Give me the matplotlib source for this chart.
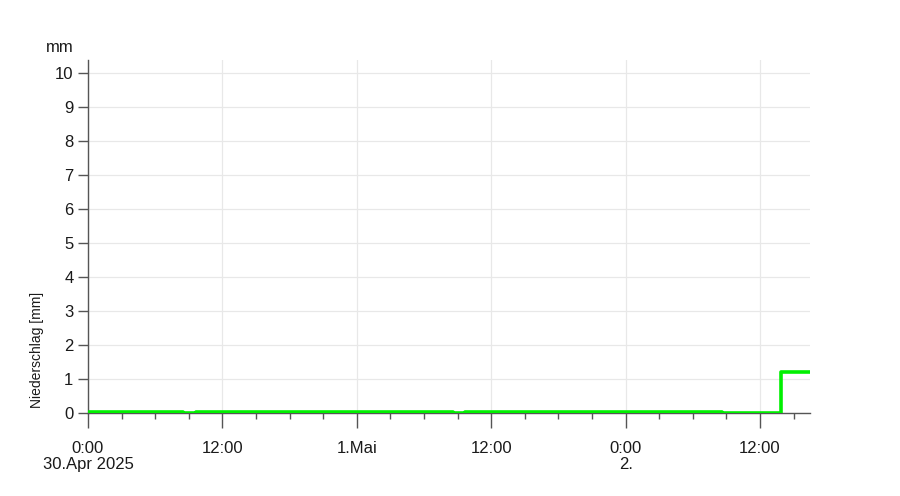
import matplotlib
matplotlib.use('Agg')
import matplotlib.pyplot as plt
import pandas as pd

plt.rcParams['font.family'] = ['Liberation Sans', 'DejaVu Sans']

# step series: start time of each interval and value [mm]
times = ['2025-04-30 00:00', '2025-04-30 08:30', '2025-04-30 09:40',
         '2025-05-01 08:35', '2025-05-01 09:40', '2025-05-02 08:35',
         '2025-05-02 13:55', '2025-05-02 16:28']
values = [0.03, 0.0, 0.03, 0.0, 0.02, 0.0, 1.2, 1.2]

x_start = '2025-04-30 00:00'
x_end = '2025-05-02 16:28'
major_ticks = ['2025-04-30 00:00', '2025-04-30 12:00', '2025-05-01 00:00',
               '2025-05-01 12:00', '2025-05-02 00:00', '2025-05-02 12:00']
major_labels = ['0:00\n30.Apr 2025', '12:00', '1.Mai', '12:00', '0:00\n2.', '12:00']
y_ticks = list(range(0, 11))

t = pd.to_datetime(times)

fig = plt.figure(figsize=(9, 4.96), dpi=100)
ax = fig.add_axes([88 / 900, 1 - 413 / 496, 722 / 900, 353 / 496])

ax.step(t, values, where='post', color='#00f000', lw=2.6, zorder=3)

ax.set_xlim(pd.Timestamp(x_start), pd.Timestamp(x_end))
ax.set_ylim(0, 10.38)

ax.set_xticks(pd.to_datetime(major_ticks))
ax.set_xticklabels(major_labels, fontsize=12, color='#1a1a1a', linespacing=1.1)
minor = pd.date_range(x_start, x_end, freq='3h')
ax.set_xticks(minor, minor=True)
ax.set_yticks(y_ticks)
ax.set_yticklabels([str(v) for v in y_ticks], fontsize=12, color='#1a1a1a')

ax.grid(True, which='major', color='#e8e8e8', lw=0.9)
ax.set_axisbelow(True)

for s in ['top', 'right']:
    ax.spines[s].set_visible(False)
for s in ['left', 'bottom']:
    ax.spines[s].set_color('#555555')
    ax.spines[s].set_linewidth(1.0)

ax.tick_params(axis='x', which='major', length=11, width=1, color='#555555', pad=9)
ax.tick_params(axis='x', which='minor', length=4.5, width=1, color='#555555')
ax.tick_params(axis='y', which='major', length=7.5, width=1, color='#555555', pad=3)
# six-hour minor ticks are drawn lighter
for tick, loc in zip(ax.xaxis.get_minor_ticks(), minor):
    if loc.hour in (6, 18):
        tick.tick1line.set_color('#aaaaaa')

ax.set_ylabel('Niederschlag [mm]', fontsize=10, color='#1a1a1a')
ax.yaxis.set_label_coords(-0.0605, 0.18)
fig.text(60 / 900, 1 - 48 / 496, 'mm', fontsize=12, ha='center', va='center',
         color='#1a1a1a')

fig.savefig('out.png', dpi=100)
